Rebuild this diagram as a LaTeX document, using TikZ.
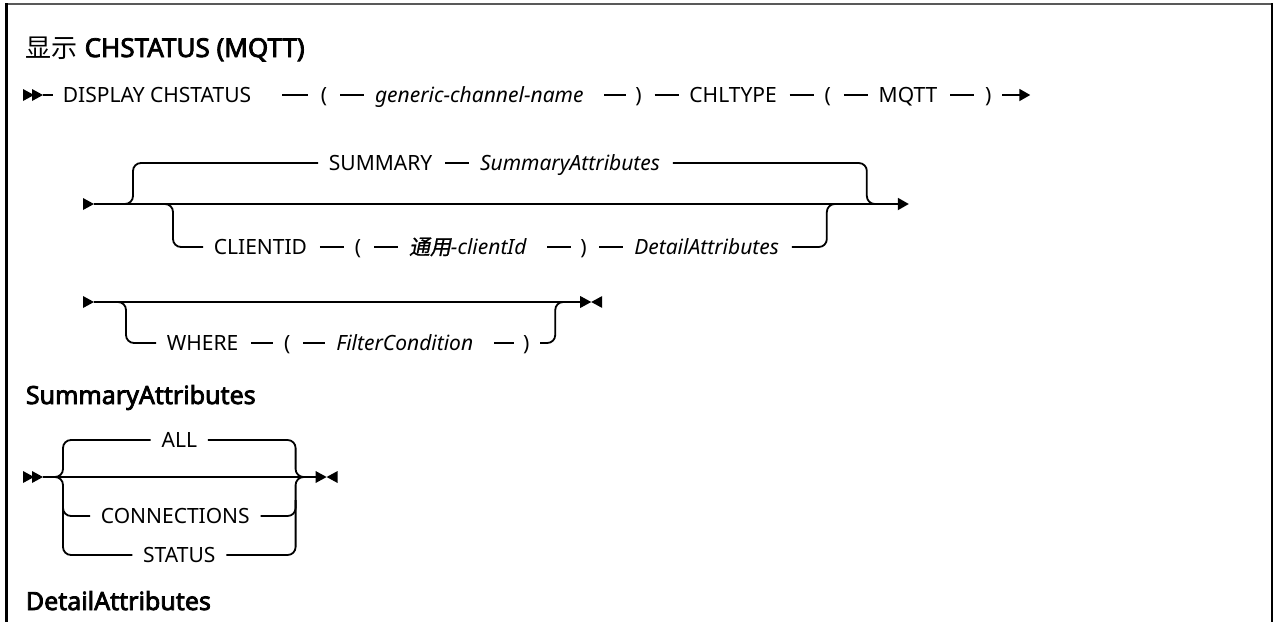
\documentclass[tikz,border=0pt]{standalone}
\usepackage{fontspec}
\setmainfont{Noto Sans}
\newfontfamily\hdfam[FakeBold=3]{Noto Sans}
\newfontfamily\cjk{Noto Sans CJK SC}
\newfontfamily\cjkit[FakeSlant=0.2,FakeBold=1]{Noto Sans CJK SC}
\usetikzlibrary{positioning,calc,arrows.meta}
\newcommand\dgfont{\fontsize{21}{25}\selectfont}
\tikzset{
  tok/.style={inner sep=0pt, anchor=west, text height=15pt, text depth=0pt, font=\dgfont},
  ital/.style={tok, font=\dgfont\itshape},
  head/.style={inner sep=0pt, anchor=base west, font=\hdfam\fontsize{25}{29}\selectfont},
  conn/.style={shorten <=12pt, shorten >=10pt},
  connx/.style={shorten <=30pt, shorten >=12pt},
  conny/.style={shorten <=20pt, shorten >=8pt},
  branch/.style={rounded corners=8pt},
  tip/.style={-{Triangle[length=11pt,width=12pt]}},
  rtri/.pic={\fill (0,-6) -- (11,0) -- (0,6) -- cycle;},
  ltri/.pic={\fill (0,-6) -- (-11,0) -- (0,6) -- cycle;},
}
\begin{document}
\begin{tikzpicture}[x=1pt,y=-1pt,line width=1.8pt]
\useasboundingbox (0,0) rectangle (1274,622);
% frame
\draw[line width=2pt, black!65] (5,3.5) -- (1273,3.5);
\fill (5,3) rectangle (7.5,622);
\fill (1270.5,3) rectangle (1273,622);

% title
\node[head, font=\hdfam\fontsize{26}{30}\selectfont] (h1) at (25,57) {{\cjk 显示} CHSTATUS (MQTT)};

% row 1
\pic at (23,95) {rtri}; \pic at (32,95) {rtri};
\coordinate (s1) at (43,95);
\node[tok] (a1) at (62,95) {DISPLAY CHSTATUS};
\node[tok, right=68pt of a1] (a2) {(};
\node[ital, right=46pt of a2] (a3) {generic-channel-name};
\node[tok, right=50pt of a3] (a4) {)};
\node[tok, right=46pt of a4] (a5) {CHLTYPE};
\node[tok, right=46pt of a5] (a6) {(};
\node[tok, right=46pt of a6] (a7) {MQTT};
\node[tok, right=46pt of a7] (a8) {)};
\coordinate[right=38pt of a8] (e1);
\draw[shorten >=9pt] (s1) -- (a1);
\draw[connx] (a1) -- (a2);
\draw[conn] (a2) -- (a3);
\draw[conny] (a3) -- (a4);
\draw[conn] (a4) -- (a5);
\draw[conn] (a5) -- (a6);
\draw[conn] (a6) -- (a7);
\draw[conn] (a7) -- (a8);
\draw[tip, shorten <=10pt] (a8) -- (e1);

% row 2
\pic at (83,204) {rtri};
\coordinate (m2) at (94,204);
\node[tok] (b1) at (328,163) {SUMMARY};
\node[ital, right=46pt of b1] (b2) {SummaryAttributes};
\node[tok] (c1) at (213,247) {CLIENTID};
\node[tok, right=46pt of c1] (c2) {(};
\node[ital, right=46pt of c2] (c3) {{\cjkit 通用}-clientId};
\node[tok, right=52pt of c3] (c4) {)};
\node[ital, right=46pt of c4] (c5) {DetailAttributes};
\coordinate (rb2) at ($(c5.east)+(47,0)$);
\coordinate (rt2) at ($(rb2)+(40,0)$);
\coordinate (e2) at ($(rt2)+(42,0)$);
\draw[tip] (m2) -- (e2 |- m2);
\draw[conn] (b1) -- (b2);
\draw[conn] (c1) -- (c2);
\draw[conn] (c2) -- (c3);
\draw[conny] (c3) -- (c4);
\draw[conn] (c4) -- (c5);
\draw[branch, shorten >=10pt] (120,204) -| (133,163) -- (b1.west);
\draw[branch, shorten <=12pt] (b2.east) -| (rt2 |- m2) -- ++(12,0);
\draw[branch, shorten >=10pt] (160,204) -| (173,247) -- (c1.west);
\draw[branch, shorten <=12pt] (c5.east) -| (rb2 |- m2) -- ++(12,0);

% row 3
\pic at (83,302) {rtri};
\coordinate (m3) at (94,302);
\node[tok] (d1) at (166,343) {WHERE};
\node[tok, right=44pt of d1] (d2) {(};
\node[ital, right=44pt of d2] (d3) {FilterCondition};
\node[tok, right=48pt of d3] (d4) {)};
\coordinate (rb3) at ($(d4.east)+(25,0)$);
\coordinate (e3) at ($(rb3)+(25,0)$);
\draw (m3) -- (e3 |- m3);
\pic at (e3 |- m3) {rtri}; \pic at ($(e3 |- m3)+(22,0)$) {ltri};
\draw[conn] (d1) -- (d2);
\draw[conn] (d2) -- (d3);
\draw[conny] (d3) -- (d4);
\draw[branch, shorten >=10pt] (113,302) -| (126,343) -- (d1.west);
\draw[branch, shorten <=10pt] (d4.east) -| (rb3 |- m3) -- ++(12,0);

% SummaryAttributes
\node[head] (h2) at (25,404) {SummaryAttributes};
\pic at (23,477) {rtri}; \pic at (32,477) {rtri};
\coordinate (m4) at (43,477);
\node[tok] (f2) at (100,516) {CONNECTIONS};
\coordinate (rv) at ($(f2.east)+(45,0)$);
\coordinate (lv) at (63,516);
\coordinate (mid) at ($(lv)!0.5!(rv)$);
\coordinate (yA) at (0,440);
\coordinate (yS) at (0,555);
\coordinate (yC) at (0,500);
\node[tok, anchor=center] (f1) at (mid |- yA) {ALL};
\node[tok, anchor=center] (f3) at (mid |- yS) {STATUS};
\coordinate (e4) at ($(rv)+(20,0)$);
\draw (m4) -- (e4 |- m4);
\pic at (e4 |- m4) {rtri}; \pic at ($(e4 |- m4)+(22,0)$) {ltri};
\draw[branch, shorten >=10pt] (50,477) -| (lv |- yA) -- (f1.west);
\draw[branch, shorten >=10pt] (50,477) -| (lv |- yS) -- (f3.west);
\draw[branch, shorten >=10pt] (lv |- yC) |- (f2.west);
\draw[branch, shorten <=10pt] (f1.east) -| (rv |- m4) -- ++(8,0);
\draw[branch, shorten <=10pt] (f3.east) -| (rv |- m4) -- ++(8,0);
\draw[branch, shorten <=10pt] (f2.east) -| (rv |- yC);

% DetailAttributes
\node[head] (h3) at (25,610) {DetailAttributes};
\end{tikzpicture}
\end{document}
